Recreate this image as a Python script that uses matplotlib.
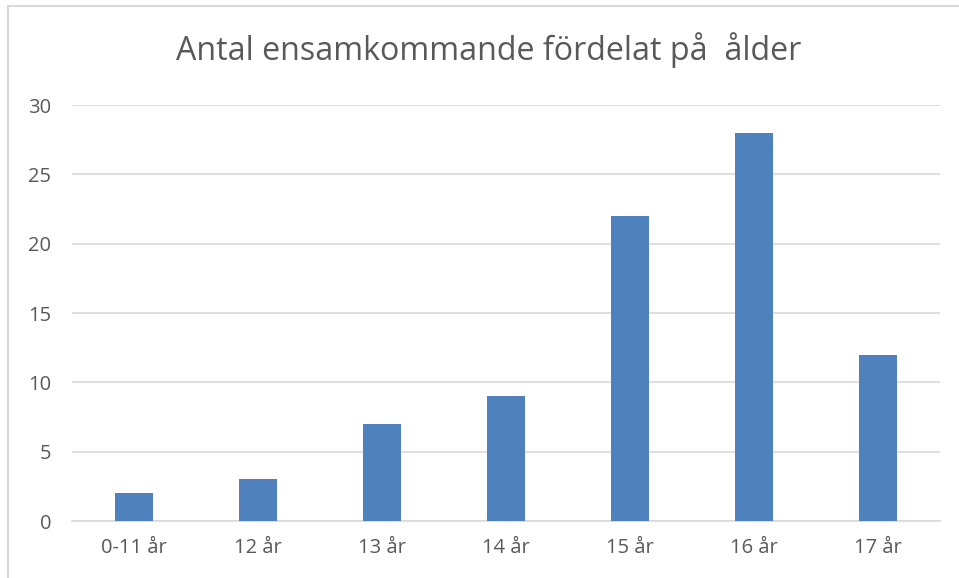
import matplotlib.pyplot as plt
from matplotlib.patches import Rectangle

# Données
categories = ["0-11 år", "12 år", "13 år", "14 år", "15 år", "16 år", "17 år"]
antal = [2, 3, 7, 9, 22, 28, 12]
yticks = [0, 5, 10, 15, 20, 25, 30]

plt.rcParams['font.family'] = ['Open Sans', 'DejaVu Sans']

fig = plt.figure(figsize=(9.59, 5.78), dpi=100)
ax = fig.add_axes([0.0751, 0.0986, 0.905, 0.7197])

x = range(len(categories))
ax.bar(x, antal, width=0.306, color='#4F81BD', zorder=3)

ax.set_xlim(-0.5, len(categories) - 0.5)
ax.set_ylim(0, 30)
ax.set_yticks(yticks)
ax.set_xticks(list(x))
ax.set_xticklabels(categories)
ax.grid(axis='y', color='#D9D9D9', linewidth=1.2, zorder=0)
for s in ['top', 'right', 'left']:
    ax.spines[s].set_visible(False)
ax.spines['bottom'].set_color('#D9D9D9')
ax.spines['bottom'].set_linewidth(1.2)
ax.tick_params(length=0, labelsize=14.5, colors='#595959')
ax.tick_params(axis='y', pad=15)
ax.tick_params(axis='x', pad=12)

fig.text(0.509, 0.913, "Antal ensamkommande fördelat på  ålder", ha='center', va='center',
         fontsize=23.2, color='#595959')

# cadre du graphique
fig.patches.append(Rectangle((8 / 959, -0.1), 1.2, 1.1 - 6 / 578, transform=fig.transFigure,
                             fill=False, edgecolor='#D9D9D9', linewidth=1.5))

fig.savefig("out.png", dpi=100)
